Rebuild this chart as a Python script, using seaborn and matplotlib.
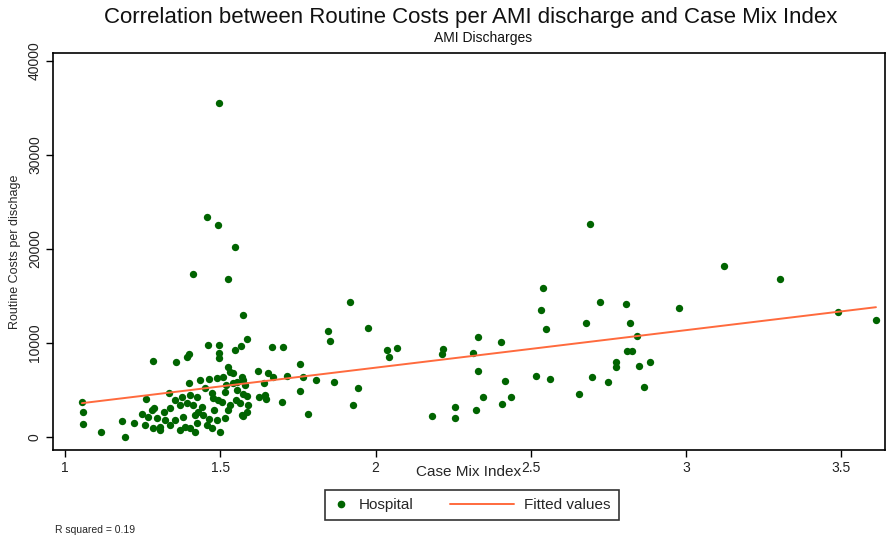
import numpy as np
import pandas as pd
import seaborn as sns
import matplotlib
matplotlib.use("Agg")
import matplotlib.pyplot as plt
from matplotlib.lines import Line2D
from matplotlib.legend_handler import HandlerLine2D

# Case mix index per hospital
case_mix = [
    1.054, 1.059, 1.059, 1.116, 1.193, 1.183, 1.222, 1.261, 1.282, 1.247,
    1.268, 1.279, 1.284, 1.306, 1.295, 1.287, 1.317, 1.322, 1.306, 1.338,
    1.338, 1.335, 1.354, 1.357, 1.370, 1.376, 1.381, 1.386, 1.392, 1.400,
    1.392, 1.400, 1.403, 1.403, 1.413, 1.419, 1.419, 1.424, 1.424, 1.435,
    1.440, 1.445, 1.456, 1.459, 1.462, 1.462, 1.472, 1.478, 1.489, 1.489,
    1.494, 1.499, 1.497, 1.495, 1.497, 1.508, 1.526, 1.526, 1.531, 1.542,
    1.531, 1.540, 1.548, 1.551, 1.555, 1.553, 1.564, 1.566, 1.569, 1.572,
    1.574, 1.569, 1.574, 1.580, 1.585, 1.587, 1.586, 1.621, 1.623, 1.641,
    1.644, 1.647, 1.655, 1.666, 1.668, 1.701, 1.699, 1.716, 1.755, 1.767,
    1.757, 1.808, 1.866, 1.783, 1.846, 1.853, 1.918, 1.975, 1.943, 1.928,
    2.036, 2.044, 2.070, 2.183, 2.218, 2.213, 2.256, 2.256, 2.313, 2.331,
    2.329, 2.324, 2.345, 2.403, 2.417, 2.435, 2.408, 2.540, 2.533, 2.548,
    2.517, 2.562, 2.677, 2.724, 2.774, 2.775, 2.696, 2.748, 2.655, 2.691,
    2.806, 2.820, 2.843, 2.809, 2.825, 2.849, 2.885, 2.866, 2.978, 3.122,
    3.303, 3.489, 3.612,
    1.497, 1.456, 1.494, 1.548, 1.411, 1.526, 1.572,
    1.354, 1.428, 1.473, 1.515, 1.506, 1.451, 1.370, 1.258, 1.515, 1.589,
    1.519, 1.477,
]

# Routine costs per AMI discharge
routine_cost = [
    3720, 2630, 1350, 500, 0, 1700, 1520, 4040, 8120, 2450,
    2100, 2870, 930, 745, 1990, 3050, 2690, 1810, 1100, 3050,
    1280, 4710, 1810, 7950, 3400, 4290, 2160, 1100, 8540, 8830,
    3590, 5710, 4470, 930, 3400, 2340, 560, 4290, 1460, 6060,
    3220, 2340, 1280, 9790, 1880, 6140, 4650, 2870, 6250, 1810,
    3940, 530, 9790, 8940, 8410, 6420, 2870, 7480, 6950, 6780,
    3400, 5710, 9260, 3940, 5000, 5880, 3590, 9650, 2340, 4580,
    2230, 6420, 6060, 5530, 2690, 10430, 4360, 7020, 4220, 5780,
    4470, 4010, 6780, 9540, 6420, 9540, 3690, 6520, 7740, 6350,
    4890, 6060, 5880, 2450, 11330, 10180, 14330, 11630, 5180, 3440,
    9260, 8540, 9440, 2270, 9330, 8830, 3220, 2050, 8970, 10640,
    6990, 2870, 4290, 10110, 5960, 4220, 3540, 15850, 13510, 11520,
    6520, 6140, 12100, 14330, 7950, 7420, 6380, 5820, 4610, 22660,
    14150, 12130, 10780, 9180, 9180, 7550, 8010, 5350, 13690, 18160,
    16840, 13330, 12450,
    35510, 23410, 22500, 20180, 17340, 16790, 12930,
    3940, 2660, 960, 4790, 3720, 5210, 745, 1280, 2020, 3400,
    5530, 4150,
]

x_ticks = [1, 1.5, 2, 2.5, 3, 3.5]
x_tick_labels = ["1", "1.5", "2", "2.5", "3", "3.5"]
y_ticks = [0, 10000, 20000, 30000, 40000]
y_tick_labels = ["0", "10000", "20000", "30000", "40000"]

df = pd.DataFrame({"Case Mix Index": case_mix, "Routine Costs per dischage": routine_cost})

sns.set_theme(style="white")
plt.rcParams["font.family"] = ["Liberation Sans", "DejaVu Sans"]

marker_color = "#006400"
fit_color = "#ff6a3d"


class HandlerLongLine(HandlerLine2D):
    """Legend line that reaches further to the left than the handle box."""

    def __init__(self, extra, **kw):
        super().__init__(**kw)
        self.extra = extra

    def create_artists(self, legend, orig_handle, xdescent, ydescent, width,
                       height, fontsize, trans):
        return super().create_artists(legend, orig_handle, xdescent + self.extra,
                                      ydescent, width + self.extra, height,
                                      fontsize, trans)


fig = plt.figure(figsize=(8.87, 5.38), dpi=100)
ax = fig.add_axes([0.0598, 0.1636, 0.9379, 0.7379])

sns.regplot(
    data=df, x="Case Mix Index", y="Routine Costs per dischage", ax=ax, ci=None,
    scatter_kws=dict(color=marker_color, s=28, marker="o", linewidths=0,
                     alpha=1, zorder=3),
    line_kws=dict(color=fit_color, lw=1.4, zorder=4),
)

ax.set_xlim(0.961, 3.641)
ax.set_ylim(-1380, 40850)
ax.set_xticks(x_ticks)
ax.set_xticklabels(x_tick_labels)
ax.set_yticks(y_ticks)
ax.set_yticklabels(y_tick_labels, rotation=90, va="center")
ax.tick_params(axis="both", which="major", direction="out", length=5, width=1,
               color="black", labelsize=10, labelcolor="#222222", bottom=True, left=True)
ax.tick_params(axis="x", pad=3)
ax.tick_params(axis="y", pad=3)
for sp in ax.spines.values():
    sp.set_color("black")
    sp.set_linewidth(1.2)

ax.set_xlabel("Case Mix Index", fontsize=11, labelpad=-7)
ax.set_ylabel("Routine Costs per dischage", fontsize=9, labelpad=5)

fig.text(0.531, 0.967, "Correlation between Routine Costs per AMI discharge and Case Mix Index",
         ha="center", va="center", fontsize=16, color="#111111")
fig.text(0.545, 0.929, "AMI Discharges", ha="center", va="center", fontsize=10, color="#111111")

hosp_handle = Line2D([], [], marker="o", color=marker_color, linestyle="none", markersize=4.5)
fit_handle = Line2D([], [], color=fit_color, lw=1.4)
leg = fig.legend([hosp_handle, fit_handle], ["Hospital", "Fitted values"], loc="center",
                 bbox_to_anchor=(0.532, 0.0613), ncol=2, frameon=True, fontsize=11,
                 handlelength=1.0, columnspacing=5.6, borderpad=0.55,
                 handletextpad=0.65, borderaxespad=0, fancybox=False,
                 edgecolor="black", numpoints=1,
                 handler_map={fit_handle: HandlerLongLine(extra=35)})
leg.get_frame().set_linewidth(1.2)

fig.text(0.062, 0.014, "R squared = 0.19", ha="left", va="center", fontsize=7.5)

fig.savefig("out.png", dpi=100, facecolor="white")
